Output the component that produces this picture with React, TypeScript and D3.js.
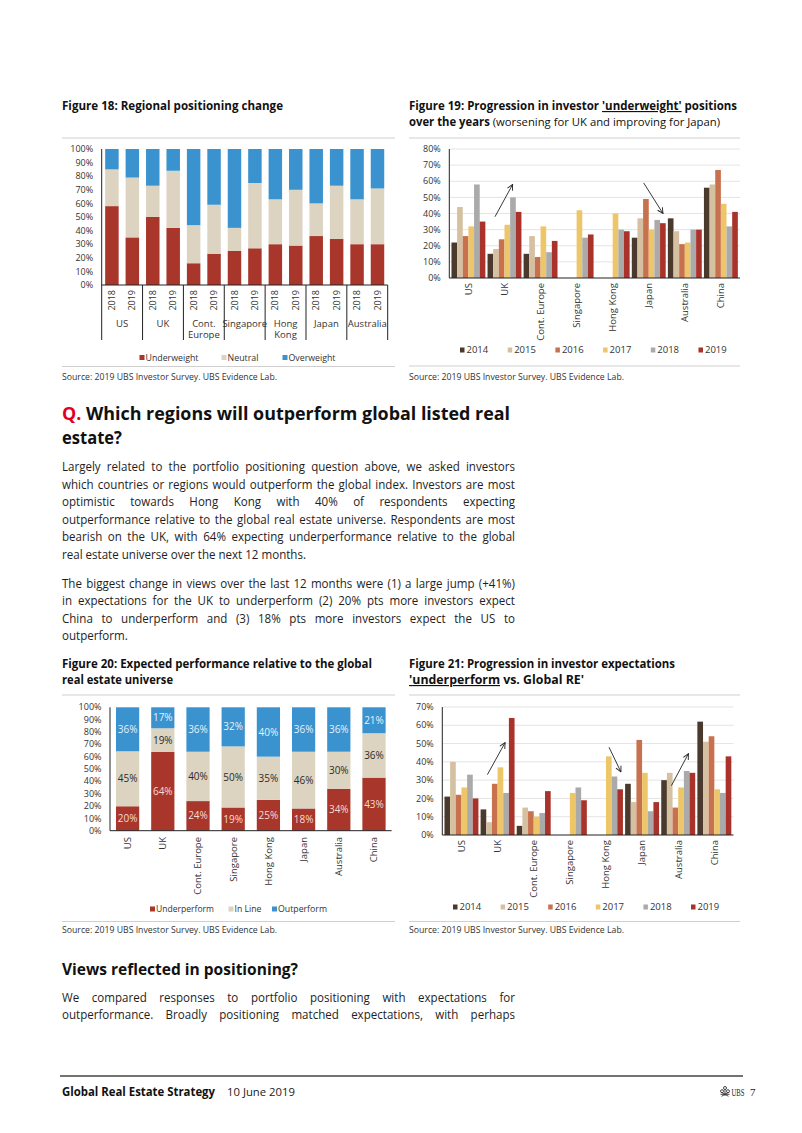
import React from "react";
import * as d3 from "d3";

const FONT = "'Open Sans', 'Noto Sans', 'DejaVu Sans', sans-serif";

// ---------- Figure 18 data ----------
const fig18Regions = ["US", "UK", "Cont. Europe", "Singapore", "Hong Kong", "Japan", "Australia"];
const fig18RegionLines = [["US"], ["UK"], ["Cont.", "Europe"], ["Singapore"], ["Hong", "Kong"], ["Japan"], ["Australia"]];
const fig18Years = ["2018", "2019"];
const fig18Underweight = [58, 35, 50, 42, 16, 23, 25, 27, 30, 29, 36, 34, 30, 30];
const fig18Neutral = [27, 44, 23, 42, 28, 36, 17, 48, 33, 41, 24, 39, 33, 41];
const fig18Overweight = [15, 21, 27, 16, 56, 41, 58, 25, 37, 30, 40, 27, 37, 29];
const fig18Keys = ["Underweight", "Neutral", "Overweight"];

// ---------- Figure 19 / 21 shared ----------
const countries = ["US", "UK", "Cont. Europe", "Singapore", "Hong Kong", "Japan", "Australia", "China"];
const surveyYears = ["2014", "2015", "2016", "2017", "2018", "2019"];

// Figure 19: 'underweight' positions (%)
const uw2014 = [22, 15, 15, null, null, 25, 37, 56];
const uw2015 = [44, 18, 26, null, null, 37, 29, 58];
const uw2016 = [26, 24, 13, null, null, 49, 21, 67];
const uw2017 = [32, 33, 32, 42, 40, 30, 22, 46];
const uw2018 = [58, 50, 16, 25, 30, 36, 30, 32];
const uw2019 = [35, 41, 23, 27, 29, 34, 30, 41];
const fig19Arrows = [
  { country: "UK", f0: 0.22, v0: 38, f1: 0.74, v1: 58 },
  { country: "Japan", f0: 0.35, v0: 59, f1: 0.92, v1: 40 },
];

// ---------- Figure 20 data ----------
const fig20Keys = ["Underperform", "In Line", "Outperform"];
const underperform20 = [20, 64, 24, 19, 25, 18, 34, 43];
const inline20 = [45, 19, 40, 50, 35, 46, 30, 36];
const outperform20 = [36, 17, 36, 32, 40, 36, 36, 21];

// Figure 21: 'underperform' expectations (%)
const up2014 = [21, 14, 5, null, null, 28, 30, 62];
const up2015 = [40, 7, 15, null, null, 18, 34, 51];
const up2016 = [22, 28, 13, null, null, 52, 15, 54];
const up2017 = [26, 37, 10, 23, 43, 34, 26, 25];
const up2018 = [33, 23, 12, 26, 32, 13, 35, 23];
const up2019 = [20, 64, 24, 19, 25, 18, 34, 43];
const fig21Arrows = [
  { country: "UK", f0: 0.2, v0: 33, f1: 0.72, v1: 50.5 },
  { country: "Hong Kong", f0: 0.59, v0: 48, f1: 0.94, v1: 34.5 },
  { country: "Australia", f0: 0.3, v0: 27, f1: 0.8, v1: 44.5 },
];

const stackColors = ["#A9362B", "#DDD3C1", "#3A93CE"];
const yearColors = ["#4A3A2D", "#D5C1A2", "#C8714F", "#EEC66A", "#AAAAAA", "#A9332A"];

// ---------- Text ----------
const para1 = [
  "Largely related to the portfolio positioning question above, we asked investors",
  "which countries or regions would outperform the global index. Investors are most",
  "optimistic towards Hong Kong with 40% of respondents expecting",
  "outperformance relative to the global real estate universe. Respondents are most",
  "bearish on the UK, with 64% expecting underperformance relative to the global",
  "real estate universe over the next 12 months.",
];
const para2 = [
  "The biggest change in views over the last 12 months were (1) a large jump (+41%)",
  "in expectations for the UK to underperform (2) 20% pts more investors expect",
  "China to underperform and (3) 18% pts more investors expect the US to",
  "outperform.",
];
const para3 = [
  "We compared responses to portfolio positioning with expectations for",
  "outperformance. Broadly positioning matched expectations, with perhaps",
];

let _ctx: CanvasRenderingContext2D | null = null;
function textW(t: string, size: number, weight: number | string = 400) {
  if (!_ctx) _ctx = document.createElement("canvas").getContext("2d");
  if (!_ctx) return t.length * size * 0.5;
  _ctx.font = `${weight} ${size}px 'Open Sans'`;
  return _ctx.measureText(t).width;
}

const BODY_SIZE = 12.5;
const BODY_FILL = "#1e1e1e";

function Paragraph({ lines, x, y0, lh, width, scale, justifyLast = false }: any) {
  const out: any[] = [];
  lines.forEach((ln: string, i: number) => {
    const words = ln.split(" ");
    const ww = words.map((w) => textW(w, BODY_SIZE) * scale);
    const isLast = i === lines.length - 1 && !justifyLast;
    const sum = ww.reduce((a, b) => a + b, 0);
    const gap = isLast || words.length < 2 ? textW(" ", BODY_SIZE) * scale : (width - sum) / (words.length - 1);
    let cx = x;
    const y = y0 + i * lh;
    words.forEach((w, j) => {
      out.push(
        <text key={`${i}-${j}`} x={cx} y={y} fontSize={BODY_SIZE} fill={BODY_FILL} textLength={ww[j]} lengthAdjust="spacingAndGlyphs">
          {w}
        </text>
      );
      cx += ww[j] + gap;
    });
  });
  return <g>{out}</g>;
}

function Fit({ x, y, w, size, weight = 400, fill = "#111", children, family }: any) {
  return (
    <text x={x} y={y} fontSize={size} fontWeight={weight} fill={fill} textLength={w} lengthAdjust="spacingAndGlyphs" fontFamily={family}>
      {children}
    </text>
  );
}

function Source({ x, y, lineY, lineX2 }: any) {
  return (
    <g>
      <line x1={x} x2={lineX2} y1={lineY} y2={lineY} stroke="#cfcfcf" strokeWidth={1} />
      <Fit x={x} y={y} w={215} size={9} fill="#333">
        Source:  2019 UBS Investor Survey. UBS Evidence Lab.
      </Fit>
    </g>
  );
}

function YTicks({ y, ticks, axisX, fmt }: any) {
  return (
    <g>
      {ticks.map((t: number) => (
        <text key={t} x={axisX - 8.5} y={y(t)} dy="0.35em" textAnchor="end" fontSize={9} fill="#333">
          {fmt(t)}
        </text>
      ))}
    </g>
  );
}

// ---------- Figure 18 ----------
function Fig18() {
  const bars = fig18Regions.flatMap((r) => fig18Years.map((yr) => `${r}|${yr}`));
  const rows = bars.map((b, i) => ({ id: b, Underweight: fig18Underweight[i], Neutral: fig18Neutral[i], Overweight: fig18Overweight[i] }));
  const x = d3.scaleBand().domain(bars).range([101.7, 387.7]).paddingInner(0.34).paddingOuter(0.17);
  const y = d3.scaleLinear().domain([0, 1]).range([285, 149]);
  const series = d3.stack<any>().keys(fig18Keys).offset(d3.stackOffsetExpand)(rows);
  const ticks = d3.range(0, 101, 10);
  const bound = (i: number) => (i < fig18Regions.length ? (x(bars[2 * i]) as number) - x.step() * 0.17 : x.range()[1]);
  const legend = [
    { label: "Underweight", sx: 139.5, w: 53 },
    { label: "Neutral", sx: 221.5, w: 31 },
    { label: "Overweight", sx: 282.5, w: 47 },
  ];
  return (
    <g>
      <Fit x={62} y={110} w={221} size={11.5} weight={700}>Figure 18: Regional positioning change</Fit>
      <line x1={62} x2={395} y1={138} y2={138} stroke="#cfcfcf" />
      <YTicks y={(t: number) => y(t / 100)} ticks={ticks} axisX={101.7} fmt={(t: number) => `${t}%`} />
      {series.map((s, si) => (
        <g key={s.key} fill={stackColors[si]}>
          {s.map((d: any) => (
            <rect key={d.data.id} x={x(d.data.id)} width={x.bandwidth()} y={y(d[1])} height={y(d[0]) - y(d[1])} />
          ))}
        </g>
      ))}
      <line x1={101.7} x2={101.7} y1={149} y2={285} stroke="#222" />
      <line x1={101.7} x2={387.7} y1={285} y2={285} stroke="#222" />
      {d3.range(fig18Regions.length + 1).map((i) => (
        <line key={i} x1={bound(i)} x2={bound(i)} y1={285} y2={340} stroke="#222" />
      ))}
      {bars.map((b) => {
        const cx = (x(b) as number) + x.bandwidth() / 2;
        return (
          <text key={b} transform={`translate(${cx},290) rotate(-90)`} textAnchor="end" dy="0.35em" fontSize={9} fill="#333">
            {b.split("|")[1]}
          </text>
        );
      })}
      {fig18RegionLines.map((lines, i) => {
        const cx = (bound(i) + bound(i + 1)) / 2;
        return lines.map((ln, j) => (
          <text key={`${i}-${j}`} x={cx} y={326.5 + j * 11.5} textAnchor="middle" fontSize={9.5} fill="#333">
            {ln}
          </text>
        ));
      })}
      {legend.map((l, i) => (
        <g key={l.label}>
          <rect x={l.sx} y={355} width={5} height={5} fill={stackColors[i]} />
          <Fit x={l.sx + 6} y={360.5} w={l.w} size={9.5} fill="#333">{l.label}</Fit>
        </g>
      ))}
      <Source x={62} y={380} lineY={366.5} lineX2={395} />
    </g>
  );
}

// ---------- Grouped chart (Fig 19 / 21) ----------
function Grouped({ values, yMax, xRange, yRange, labelY, arrows }: any) {
  const x0 = d3.scaleBand().domain(countries).range(xRange).paddingInner(0.06).paddingOuter(0.06);
  const x1 = d3.scaleBand().domain(surveyYears).range([0, x0.bandwidth()]);
  const y = d3.scaleLinear().domain([0, yMax]).range(yRange);
  const ticks = d3.range(0, yMax + 1, 10);
  return (
    <g>
      {ticks.slice(1).map((t) => (
        <line key={t} x1={xRange[0]} x2={xRange[1]} y1={y(t)} y2={y(t)} stroke="#e4e4e4" />
      ))}
      <YTicks y={y} ticks={ticks} axisX={xRange[0]} fmt={(t: number) => `${t}%`} />
      {surveyYears.map((yr, yi) => (
        <g key={yr} fill={yearColors[yi]}>
          {countries.map((c, ci) => {
            const v = values[yi][ci];
            if (v == null) return null;
            return <rect key={c} x={(x0(c) as number) + (x1(yr) as number)} width={x1.bandwidth()} y={y(v)} height={y(0) - y(v)} />;
          })}
        </g>
      ))}
      <line x1={xRange[0]} x2={xRange[0]} y1={yRange[1]} y2={yRange[0]} stroke="#222" />
      <line x1={xRange[0]} x2={xRange[1]} y1={yRange[0]} y2={yRange[0]} stroke="#222" />
      {countries.map((c) => (
        <text key={c} transform={`translate(${(x0(c) as number) + x0.bandwidth() / 2},${labelY}) rotate(-90)`} textAnchor="end" dy="0.35em" fontSize={9.5} fill="#333">
          {c}
        </text>
      ))}
      {arrows.map((a: any, i: number) => {
        const bx = x0(a.country) as number;
        return (
          <line key={i} x1={bx + a.f0 * x0.bandwidth()} y1={y(a.v0)} x2={bx + a.f1 * x0.bandwidth()} y2={y(a.v1)} stroke="#222" strokeWidth={0.9} markerEnd="url(#arrowhead)" />
        );
      })}
    </g>
  );
}

function YearLegend({ x0, y, step }: any) {
  return (
    <g>
      {surveyYears.map((yr, i) => (
        <g key={yr}>
          <rect x={x0 + i * step} y={y - 2.5} width={4.5} height={5} fill={yearColors[i]} />
          <text x={x0 + i * step + 6.5} y={y} dy="0.35em" fontSize={9.5} fill="#333">{yr}</text>
        </g>
      ))}
    </g>
  );
}

function Fig19() {
  return (
    <g>
      <Fit x={409} y={110} w={328} size={11.5} weight={700}>
        Figure 19: Progression in investor <tspan style={{ textDecoration: "underline" }}>'underweight'</tspan> positions
      </Fit>
      <Fit x={409} y={126} w={311} size={11.5}>
        <tspan fontWeight={700}>over the years</tspan> (worsening for UK and improving for Japan)
      </Fit>
      <line x1={409} x2={740} y1={138} y2={138} stroke="#cfcfcf" />
      <Grouped values={[uw2014, uw2015, uw2016, uw2017, uw2018, uw2019]} yMax={80} xRange={[449.3, 740]} yRange={[278, 149]} labelY={283} arrows={fig19Arrows} />
      <YearLegend x0={460} y={350} step={47.7} />
      <Source x={409} y={380} lineY={366} lineX2={740} />
    </g>
  );
}

// ---------- Figure 20 ----------
function Fig20() {
  const rows = countries.map((c, i) => ({ id: c, Underperform: underperform20[i], "In Line": inline20[i], Outperform: outperform20[i] }));
  const x = d3.scaleBand().domain(countries).range([110, 391.6]).paddingInner(0.34).paddingOuter(0.17);
  const y = d3.scaleLinear().domain([0, 1]).range([830.7, 707.3]);
  const series = d3.stack<any>().keys(fig20Keys).offset(d3.stackOffsetExpand)(rows);
  const labelColors = ["#F6DCD5", "#2b2b2b", "#E6F1FA"];
  const legend = [
    { label: "Underperform", sx: 150, w: 58 },
    { label: "In Line", sx: 228.5, w: 27 },
    { label: "Outperform", sx: 272, w: 49 },
  ];
  return (
    <g>
      <Fit x={62} y={668} w={310} size={11.5} weight={700}>Figure 20: Expected performance relative to the global</Fit>
      <Fit x={62} y={684} w={111} size={11.5} weight={700}>real estate universe</Fit>
      <line x1={62} x2={395} y1={695} y2={695} stroke="#cfcfcf" />
      <YTicks y={(t: number) => y(t / 100)} ticks={d3.range(0, 101, 10)} axisX={110} fmt={(t: number) => `${t}%`} />
      {series.map((s, si) => (
        <g key={s.key}>
          {s.map((d: any) => (
            <rect key={d.data.id} x={x(d.data.id)} width={x.bandwidth()} y={y(d[1])} height={y(d[0]) - y(d[1])} fill={stackColors[si]} />
          ))}
          {s.map((d: any) => (
            <text key={`t-${d.data.id}`} x={(x(d.data.id) as number) + x.bandwidth() / 2} y={(y(d[0]) + y(d[1])) / 2} dy="0.36em" textAnchor="middle" fontSize={10} fill={labelColors[si]}>
              {`${d.data[s.key]}%`}
            </text>
          ))}
        </g>
      ))}
      <line x1={110} x2={110} y1={707.3} y2={830.7} stroke="#222" />
      <line x1={110} x2={391.6} y1={830.7} y2={830.7} stroke="#222" />
      {countries.map((c) => (
        <text key={c} transform={`translate(${(x(c) as number) + x.bandwidth() / 2},837) rotate(-90)`} textAnchor="end" dy="0.35em" fontSize={9.5} fill="#333">
          {c}
        </text>
      ))}
      {legend.map((l, i) => (
        <g key={l.label}>
          <rect x={l.sx} y={906.5} width={5} height={5} fill={stackColors[i]} />
          <Fit x={l.sx + 6} y={912} w={l.w} size={9.5} fill="#333">{l.label}</Fit>
        </g>
      ))}
      <Source x={62} y={933} lineY={921.5} lineX2={395} />
    </g>
  );
}

function Fig21() {
  return (
    <g>
      <Fit x={409} y={668} w={266} size={11.5} weight={700}>Figure 21: Progression in investor expectations</Fit>
      <Fit x={409} y={684} w={175} size={11.5} weight={700}>
        <tspan style={{ textDecoration: "underline" }}>'underperform</tspan> vs. Global RE'
      </Fit>
      <line x1={409} x2={740} y1={695} y2={695} stroke="#cfcfcf" />
      <Grouped values={[up2014, up2015, up2016, up2017, up2018, up2019]} yMax={70} xRange={[442.3, 733.5]} yRange={[835, 707]} labelY={840} arrows={fig21Arrows} />
      <YearLegend x0={453} y={907} step={47.6} />
      <Source x={409} y={933} lineY={921.5} lineX2={740} />
    </g>
  );
}

function Body() {
  const scale = 244 / textW("real estate universe over the next 12 months.", BODY_SIZE);
  return (
    <g>
      <Fit x={62} y={419.5} w={448} size={18.5} weight={700} fill="#111">
        <tspan fill="#E2001A">Q.</tspan> Which regions will outperform global listed real
      </Fit>
      <Fit x={62} y={443.5} w={60} size={18.5} weight={700} fill="#111">estate?</Fit>
      <Paragraph lines={para1} x={62} y0={471} lh={17.5} width={453} scale={scale} />
      <Paragraph lines={para2} x={62} y0={587.5} lh={17.5} width={453} scale={scale} />
      <Fit x={62} y={975} w={236} size={15.5} weight={700} fill="#111">Views reflected in positioning?</Fit>
      <Paragraph lines={para3} x={62} y0={1001.5} lh={17.5} width={453} scale={scale} justifyLast={true} />
    </g>
  );
}

function Footer() {
  return (
    <g>
      <line x1={60} x2={743} y1={1076} y2={1076} stroke="#444" strokeWidth={1.3} />
      <Fit x={62} y={1095.5} w={153} size={11.5} weight={700} fill="#111">Global Real Estate Strategy</Fit>
      <Fit x={227} y={1095.5} w={68} size={11.5} fill="#222">10 June 2019</Fit>
      <g stroke="#333" strokeWidth={0.9} fill="none">
        <circle cx={725} cy={1088} r={1.5} />
        <circle cx={722} cy={1091.2} r={1.5} />
        <circle cx={728} cy={1091.2} r={1.5} />
        <line x1={725} y1={1089.5} x2={725} y2={1096} />
        <line x1={720.5} y1={1094.3} x2={729.5} y2={1094.3} />
        <line x1={721.5} y1={1096.3} x2={728.5} y2={1092.3} />
        <line x1={728.5} y1={1096.3} x2={721.5} y2={1092.3} />
      </g>
      <Fit x={731.5} y={1095.5} w={13} size={10.5} fill="#222" family="'Liberation Serif', serif">UBS</Fit>
      <text x={750} y={1095.5} fontSize={11} fontFamily="'Liberation Serif', serif" fill="#222">7</text>
    </g>
  );
}

export default function App() {
  return (
    <svg width={802} height={1133} viewBox="0 0 802 1133" fontFamily={FONT} style={{ position: "absolute", left: 0, top: 0, display: "block", background: "#fff" }}>
      <defs>
        <marker id="arrowhead" viewBox="0 0 10 10" refX={9} refY={5} markerWidth={7} markerHeight={7} orient="auto" markerUnits="userSpaceOnUse">
          <path d="M1,1 L9,5 L1,9" fill="none" stroke="#222" strokeWidth={1.3} />
        </marker>
      </defs>
      <rect width={802} height={1133} fill="#fff" />
      <Fig18 />
      <Fig19 />
      <Body />
      <Fig20 />
      <Fig21 />
      <Footer />
    </svg>
  );
}
